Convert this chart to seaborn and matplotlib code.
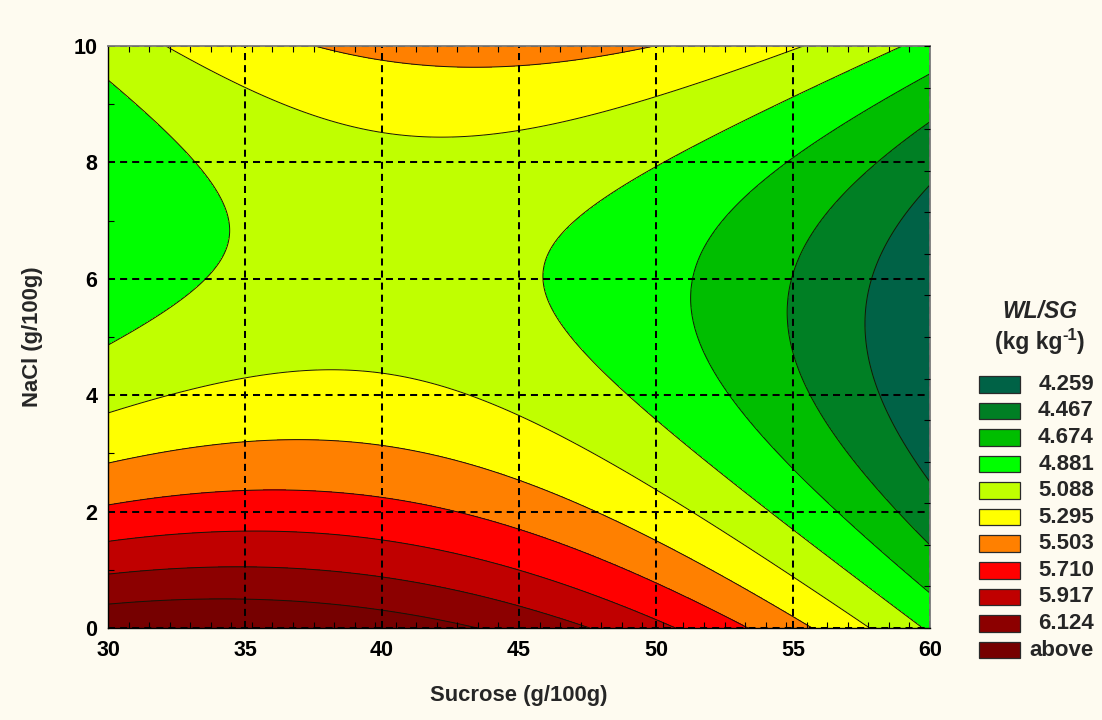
import numpy as np
import pandas as pd
import matplotlib
matplotlib.use("Agg")
import matplotlib.pyplot as plt
from matplotlib.patches import Rectangle
import seaborn as sns

# Design points of the response surface: sucrose and NaCl levels (g/100g)
sucrose = [30, 35, 40, 45, 50, 55, 60]
nacl = [0, 2, 4, 6, 8, 10]

# WL/SG (kg kg-1) at each sucrose level, one list per NaCl level
wlsg_nacl0 = [6.300, 6.325, 6.244, 6.056, 5.761, 5.359, 4.851]
wlsg_nacl2 = [5.539, 5.607, 5.568, 5.423, 5.171, 4.813, 4.347]
wlsg_nacl4 = [5.026, 5.137, 5.141, 5.039, 4.830, 4.514, 4.092]
wlsg_nacl6 = [4.760, 4.914, 4.962, 4.902, 4.736, 4.464, 4.084]
wlsg_nacl8 = [4.743, 4.940, 5.030, 5.014, 4.891, 4.661, 4.325]
wlsg_nacl10 = [4.974, 5.214, 5.347, 5.374, 5.293, 5.106, 4.813]

# Contour class limits and their fill colours
level_values = [4.259, 4.467, 4.674, 4.881, 5.088, 5.295, 5.503, 5.710, 5.917, 6.124]
level_labels = ["4.259", "4.467", "4.674", "4.881", "5.088", "5.295",
                "5.503", "5.710", "5.917", "6.124", "above"]
level_colors = ["#006246", "#007F24", "#00BE00", "#00FF00", "#C0FF00",
                "#FFFF00", "#FF8000", "#FF0000", "#C00000", "#8C0000", "#760000"]

BG = "#FEFBF0"

sns.set_theme(style="white", rc={"figure.facecolor": BG, "savefig.facecolor": BG})
plt.rcParams["font.family"] = ["Liberation Sans", "DejaVu Sans"]
plt.rcParams["font.weight"] = "bold"

# Long table of the design points
rows = [wlsg_nacl0, wlsg_nacl2, wlsg_nacl4, wlsg_nacl6, wlsg_nacl8, wlsg_nacl10]
df = pd.DataFrame(
    [(s, n, z) for n, row in zip(nacl, rows) for s, z in zip(sucrose, row)],
    columns=["sucrose", "nacl", "wlsg"],
)

# Second-order response surface fitted to the design points
def design(s, n):
    u = (np.asarray(s, float) - 45.0) / 15.0
    v = (np.asarray(n, float) - 5.0) / 5.0
    return np.column_stack([np.ones_like(u), u, v, u * u, v * v, u * v])

coef, *_ = np.linalg.lstsq(design(df["sucrose"], df["nacl"]), df["wlsg"].to_numpy(), rcond=None)

gx = np.linspace(min(sucrose), max(sucrose), 301)
gy = np.linspace(min(nacl), max(nacl), 301)
GX, GY = np.meshgrid(gx, gy)
GZ = (design(GX.ravel(), GY.ravel()) @ coef).reshape(GX.shape)

fill_levels = [min(GZ.min(), level_values[0]) - 1.0] + level_values + [max(GZ.max(), level_values[-1]) + 1.0]

fig = plt.figure(figsize=(11.02, 7.2), dpi=100)
ax = fig.add_axes([108 / 1102, 1 - 628 / 720, 822 / 1102, 582 / 720])
ax.set_facecolor(BG)

ax.contourf(GX, GY, GZ, levels=fill_levels, colors=level_colors, zorder=1)
ax.contour(GX, GY, GZ, levels=level_values, colors="#141408", linewidths=0.7, zorder=2)

ax.set_xlim(30, 60)
ax.set_ylim(0, 10)
ax.set_xticks(sucrose)
ax.set_yticks(nacl)
ax.set_xticklabels([str(s) for s in sucrose])
ax.set_yticklabels([str(n) for n in nacl])

# Dashed grid over the filled contours
ax.set_axisbelow(False)
ax.grid(True, color="black", linestyle=(0, (3.5, 2.5)), linewidth=1.45, zorder=3)

# Inward minor ticks
ax.set_xticks(np.arange(30, 60.001, 0.75), minor=True)
ax.set_yticks(np.arange(0, 10.001, 1.0), minor=True)
ax.tick_params(axis="x", which="major", length=0, labelsize=15.5, pad=9, colors="black")
ax.tick_params(axis="y", which="major", length=0, labelsize=15.5, pad=7.5, colors="black")
ax.tick_params(axis="both", which="minor", direction="in", length=4, width=0.8,
               top=True, bottom=True, left=True, right=False, color="black")
for lab in ax.get_xticklabels() + ax.get_yticklabels():
    lab.set_fontweight("bold")

twin = ax.twinx()
twin.set_ylim(0, 10)
twin.set_yticks([])
twin.set_yticks(np.linspace(0, 10, 15), minor=True)
twin.tick_params(axis="y", which="minor", direction="in", length=4, width=0.8, right=True, color="black")
twin.tick_params(axis="y", which="major", length=0)
twin.set_yticklabels([])
for sp in twin.spines.values():
    sp.set_visible(False)

for side in ["left", "bottom"]:
    ax.spines[side].set_color("black")
    ax.spines[side].set_linewidth(1.0)
for side in ["top", "right"]:
    ax.spines[side].set_color("#7a7a7a")
    ax.spines[side].set_linewidth(1.3)
for sp in ax.spines.values():
    sp.set_zorder(4)

ax.set_xlabel("Sucrose (g/100g)", fontsize=15.8, fontweight="bold", labelpad=17)
ax.set_ylabel("NaCl (g/100g)", fontsize=15.8, fontweight="bold", labelpad=22)

# Legend of contour classes
def fx(px):
    return px / 1102

def fy(py):
    return 1 - py / 720

fig.text(fx(1040), fy(312), "WL/SG", ha="center", va="center", fontsize=16.5,
         fontweight="bold", fontstyle="italic")

# Unit line with a raised "-1"
renderer = fig.canvas.get_renderer()
unit_parts = [("(kg kg", 16.5, 0), ("-1", 12, 9), (")", 16.5, 0)]
widths = []
for txt, fs, _ in unit_parts:
    t = fig.text(0, 0, txt, fontsize=fs, fontweight="bold")
    widths.append(t.get_window_extent(renderer).width)
    t.remove()
x0 = 1040 - sum(widths) / 2
for (txt, fs, dy), w in zip(unit_parts, widths):
    fig.text(fx(x0), fy(349) + dy / 720, txt, ha="left", va="baseline",
             fontsize=fs, fontweight="bold")
    x0 += w

row_top = 384.3
row_step = 26.57
for i, (lab, col) in enumerate(zip(level_labels, level_colors)):
    cy = row_top + i * row_step
    fig.patches.append(Rectangle((fx(978.5), fy(cy + 8.3)), fx(41), 16.6 / 720,
                                 transform=fig.transFigure, facecolor=col,
                                 edgecolor="#2a2a2a", linewidth=0.9))
    fig.text(fx(1094), fy(cy), lab, ha="right", va="center", fontsize=16, fontweight="bold")

fig.savefig("out.png", dpi=100, facecolor=BG)
